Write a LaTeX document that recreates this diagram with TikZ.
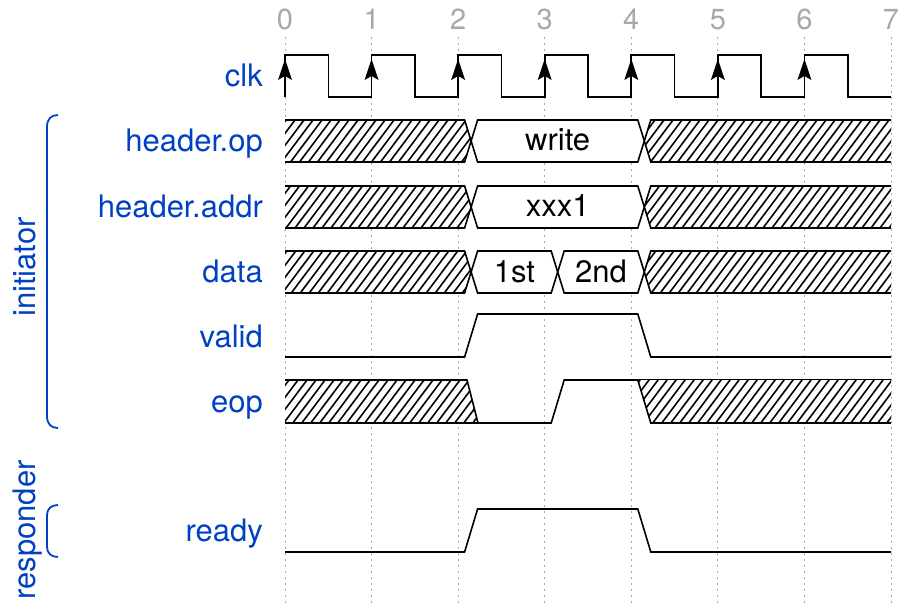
\documentclass[tikz,border=0pt]{standalone}
\usepackage{fontspec}
\setmainfont{TeX Gyre Heros}
\definecolor{wblue}{HTML}{0041C4}
\definecolor{tickgray}{HTML}{A8A8A8}
\tikzset{
  lbl/.style={font=\fontsize{31}{36}\selectfont, text=wblue, anchor=base east, inner sep=0pt},
  ticklbl/.style={font=\fontsize{29}{34}\selectfont, text=tickgray, anchor=base, inner sep=0pt},
  gridln/.style={draw=tickgray, line width=1pt, dash pattern=on 2pt off 4pt},
  wave/.style={draw=black, line width=1.6pt, line join=miter},
  hatchln/.style={draw=black, line width=1.6pt},
  dtext/.style={font=\fontsize{31}{36}\selectfont, anchor=base, inner sep=0pt},
  grp/.style={font=\fontsize{31}{36}\selectfont, text=wblue, rotate=90, anchor=base, inner sep=0pt},
  bracket/.style={draw=wblue, line width=1.8pt},
  clkarrow/.style={fill=black, draw=none}
}
\newcommand{\hatchreg}[1]{%
  \fill[white] #1;
  \begin{scope}
    \clip #1;
    \foreach \a in {-200,-191,...,900} \draw[hatchln] (\a,600) -- ++(450,-600);
  \end{scope}}
\begin{document}
\begin{tikzpicture}[x=1pt,y=-1pt]
\useasboundingbox (0,0) rectangle (898,607);

% grid and tick numbers
\foreach \t/\x in {0/285,1/371.57,2/458.14,3/544.71,4/631.28,5/717.85,6/804.42,7/891}{
  \draw[gridln] (\x,37) -- (\x,607);
  \node[ticklbl] (tick\t) at (\x,30) {\t};
}

% signal names
\node[lbl] (nclk)  at (263,87)  {clk};
\node[lbl] (nop)   at (263,152) {header.op};
\node[lbl] (naddr) at (263,218) {header.addr};
\node[lbl] (ndata) at (263,283) {data};
\node[lbl] (nvalid) at (263,347) {valid};
\node[lbl] (neop)  at (263,412) {eop};
\node[lbl] (nready) at (263,541) {ready};

% group labels and brackets
\node[grp] (ginit) at (35,267) {initiator};
\node[grp] (gresp) at (35,530) {responder};
\draw[bracket] (58,115) .. controls (51,115) and (47,119) .. (47,127) -- (47,416)
  .. controls (47,424) and (51,428) .. (58,428);
\draw[bracket] (58,505) .. controls (51,505) and (47,509) .. (47,515) -- (47,547)
  .. controls (47,553) and (51,557) .. (58,557);

% clock
\draw[wave] (285,97) -- (285,55)
  \foreach \x/\h/\n in {285/328.3/371.57, 371.57/414.9/458.14, 458.14/501.4/544.71,
     544.71/588/631.28, 631.28/674.6/717.85, 717.85/761.1/804.42}{
     -- (\h,55) -- (\h,97) -- (\n,97) -- (\n,55)}
  -- (847.7,55) -- (847.7,97) -- (891,97);
\foreach \x in {285,371.57,458.14,544.71,631.28,717.85,804.42}
  \fill[clkarrow] (\x,59) -- (\x+7,80) -- (\x,76) -- (\x-7,80) -- cycle;

% bus rows: header.op, header.addr, data
\foreach \T in {120,186,251}{
  \pgfmathsetmacro{\M}{\T+21}
  \pgfmathsetmacro{\B}{\T+42}
  \hatchreg{(285,\T) -- (464.6,\T) -- (471.1,\M) -- (464.6,\B) -- (285,\B) -- cycle}
  \draw[wave] (285,\T) -- (464.6,\T) -- (471.1,\M) -- (464.6,\B) -- (285,\B);
  \hatchreg{(644.3,\M) -- (650.8,\T) -- (891,\T) -- (891,\B) -- (650.8,\B) -- cycle}
  \draw[wave] (891,\T) -- (650.8,\T) -- (644.3,\M) -- (650.8,\B) -- (891,\B);
}
\draw[wave, fill=white] (471.1,141) -- (477.6,120) -- (637.8,120) -- (644.3,141) -- (637.8,162) -- (477.6,162) -- cycle;
\node[dtext] (vwrite) at (557.7,151) {write};
\draw[wave, fill=white] (471.1,207) -- (477.6,186) -- (637.8,186) -- (644.3,207) -- (637.8,228) -- (477.6,228) -- cycle;
\node[dtext] (vaddr) at (557.7,217) {xxx1};
\draw[wave, fill=white] (471.1,272) -- (477.6,251) -- (551.2,251) -- (557.7,272) -- (551.2,293) -- (477.6,293) -- cycle;
\node[dtext] (vfirst) at (514.4,282) {1st};
\draw[wave, fill=white] (557.7,272) -- (564.2,251) -- (637.8,251) -- (644.3,272) -- (637.8,293) -- (564.2,293) -- cycle;
\node[dtext] (vsecond) at (601,282) {2nd};

% valid
\draw[wave] (285,357) -- (464.6,357) -- (477.6,314) -- (637.8,314) -- (650.8,357) -- (891,357);

% eop
\hatchreg{(285,380) -- (467,380) -- (478,423) -- (285,423) -- cycle}
\draw[wave] (285,380) -- (467,380) -- (478,423);
\draw[wave] (285,423) -- (551.2,423) -- (564.2,380) -- (891,380);
\hatchreg{(637.8,380) -- (891,380) -- (891,423) -- (650.8,423) -- cycle}
\draw[wave] (637.8,380) -- (650.8,423) -- (891,423);

% ready
\draw[wave] (285,552) -- (464.6,552) -- (477.6,509) -- (637.8,509) -- (650.8,552) -- (891,552);
\end{tikzpicture}
\end{document}
